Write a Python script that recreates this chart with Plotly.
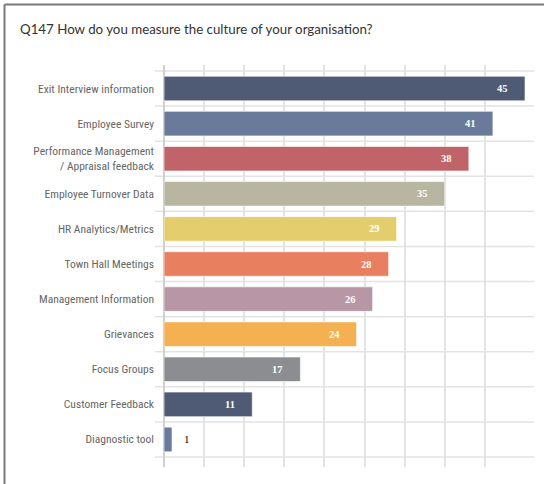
import plotly.graph_objects as go

categories = ["Exit Interview information", "Employee Survey",
              "Performance Management<br>/ Appraisal feedback", "Employee Turnover Data",
              "HR Analytics/Metrics", "Town Hall Meetings", "Management Information",
              "Grievances", "Focus Groups", "Customer Feedback", "Diagnostic tool"]
values = [45, 41, 38, 35, 29, 28, 26, 24, 17, 11, 1]
colors = ["#4f5b75", "#6a7a9a", "#c0646a", "#b8b5a0", "#e4cd6c", "#e8805f",
          "#b896a6", "#f5b052", "#8c8d90", "#4f5b75", "#6a7a9a"]
title = "Q147 How do you measure the culture of your organisation?"

W, H = 544, 484
L, R, T, B = 164, 19, 65, 17
PW = W - L - R
n = len(categories)
cat_px = 35.09
top_extra = 6 / cat_px
bot_extra = 10 / cat_px

fig = go.Figure(go.Bar(
    y=list(range(n)), x=values, orientation="h",
    marker=dict(color=colors, line=dict(color="rgba(255,255,255,0.6)", width=1)),
    width=0.7, hoverinfo="skip"))

def px2paper_x(px):
    return (px - L) / PW

shapes = []
for i in range(n + 1):
    shapes.append(dict(type="line", xref="paper", yref="y",
                       x0=px2paper_x(155), x1=px2paper_x(534), y0=i - 0.5, y1=i - 0.5,
                       line=dict(color="#e3e3e3", width=1.5), layer="below"))
# frame lines (top and left)
shapes.append(dict(type="line", xref="paper", yref="paper",
                   x0=px2paper_x(4.5), x1=px2paper_x(548), y0=1 + (T - 4.5) / (H - T - B),
                   y1=1 + (T - 4.5) / (H - T - B), line=dict(color="#7a7a7a", width=2)))
shapes.append(dict(type="line", xref="paper", yref="paper",
                   x0=px2paper_x(4.5), x1=px2paper_x(4.5), y0=-1,
                   y1=1 + (T - 4.5) / (H - T - B), line=dict(color="#7a7a7a", width=2)))

annotations = []
for i, v in enumerate(values):
    if v >= 5:
        annotations.append(dict(x=v, y=i, xref="x", yref="y", text=str(v),
                                showarrow=False, xanchor="right", xshift=-15,
                                font=dict(family="Liberation Serif, DejaVu Serif", size=10.5,
                                          color="white", weight="bold")))
    else:
        annotations.append(dict(x=v, y=i, xref="x", yref="y", text=str(v),
                                showarrow=False, xanchor="left", xshift=10,
                                font=dict(family="Liberation Serif, DejaVu Serif", size=11,
                                          color="black")))

fig.update_layout(
    width=W, height=H, margin=dict(l=L, r=R, t=T, b=B),
    paper_bgcolor="white", plot_bgcolor="white",
    showlegend=False,
    title=dict(text=title, xref="container", yref="container", x=20 / W, xanchor="left",
               y=1 - 29 / H, yanchor="middle",
               font=dict(family="Lato, Open Sans", size=13.3, color="#333333")),
    xaxis=dict(range=[0, 45], tickvals=list(range(0, 50, 5)), showticklabels=False,
               showgrid=True, gridcolor="#e3e3e3", gridwidth=1.5,
               zeroline=True, zerolinecolor="#d0d0d0", zerolinewidth=1.5, showline=False,
               fixedrange=True),
    yaxis=dict(range=[n - 0.5 + bot_extra, -0.5 - top_extra],
               tickvals=list(range(n)), ticktext=categories,
               showgrid=False, zeroline=False, showline=False, ticks="",
               ticklabelstandoff=9,
               tickfont=dict(family="Liberation Sans Narrow, Roboto Condensed, Liberation Sans",
                             size=11.5, color="#666666")),
    shapes=shapes, annotations=annotations,
    bargap=0.3,
)

fig.write_html("out.html")
